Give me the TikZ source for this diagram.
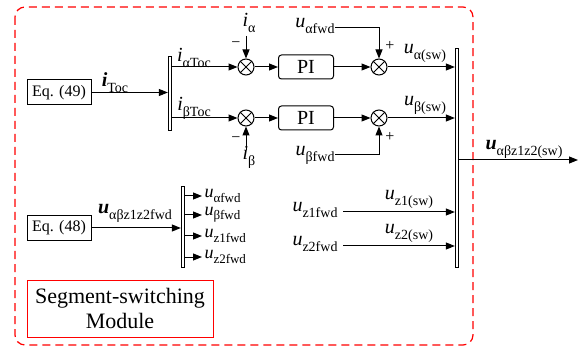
\documentclass[tikz,border=0pt]{standalone}
\usepackage{fontspec}
\setmainfont{Liberation Serif}
\usetikzlibrary{arrows.meta}
\newcommand{\sbs}[1]{\raisebox{-0.3em}{\fontsize{14}{14}\selectfont #1}}
\newcommand{\sig}[2]{\textit{#1}\sbs{#2}}
\newcommand{\bsig}[2]{\textbf{\textit{#1}}\sbs{#2}}
\newcommand{\ssig}[2]{{\fontsize{18}{18}\selectfont\textit{#1}\raisebox{-0.25em}{\fontsize{13}{13}\selectfont #2}}}
\tikzset{
  eqbox/.style={draw, minimum width=64pt, minimum height=25pt, inner sep=0pt, font=\fontsize{16}{18}\selectfont},
  pibox/.style={draw, rounded corners=3pt, minimum width=55pt, minimum height=24pt, inner sep=0pt},
  sumnode/.style={draw, circle, minimum size=16pt, inner sep=0pt},
  bus/.style={draw, fill=white, line width=0.8pt, minimum width=3.5pt, inner sep=0pt},
  lbl/.style={inner sep=0pt},
  sgn/.style={inner sep=0pt, font=\fontsize{16}{16}\selectfont}
}
\begin{document}
\begin{tikzpicture}[x=1pt, y=-1pt, line width=1pt, >={Triangle[length=9pt,width=7pt]},
  font=\fontsize{20}{22}\selectfont]
  \useasboundingbox (0,0) rectangle (583,347);
  \draw[red, line width=1.2pt, dash pattern=on 8pt off 5pt, rounded corners=10pt] (15,7) rectangle (473,345);

  % current loops
  \node[eqbox] (eq49) at (59,92.5) {Eq. (49)};
  \node[bus, minimum height=74pt] (bus1) at (170,93) {};
  \draw[->] (eq49.east) -- (eq49 -| bus1.west);
  \node[lbl] (itoc) at (115,83) {\bsig{i}{Toc}};

  \node[sumnode] (s1) at (246,67) {};
  \node[sumnode] (s3) at (246,118) {};
  \node[sumnode] (s2) at (379,67) {};
  \node[sumnode] (s4) at (379,118) {};
  \foreach \s in {s1,s2,s3,s4}{
    \draw[line width=0.8pt] (\s.north west) -- (\s.south east) (\s.north east) -- (\s.south west);
  }
  \node[pibox] (pi1) at (306,67) {PI};
  \node[pibox] (pi2) at (306,118) {PI};

  \draw[->] (bus1.east |- s1) -- (s1.west);
  \draw[->] (bus1.east |- s3) -- (s3.west);
  \node[lbl] (iatoc) at (194,58) {\sig{i}{αToc}};
  \node[lbl] (ibtoc) at (194,108) {\sig{i}{βToc}};
  \draw[->] (s1.east) -- (pi1.west);
  \draw[->] (s3.east) -- (pi2.west);
  \draw[->] (pi1.east) -- (s2.west);
  \draw[->] (pi2.east) -- (s4.west);

  \node[lbl] (ia) at (249,23) {\sig{i}{α}};
  \node[lbl] (ib) at (249,157) {\sig{i}{β}};
  \draw[->] (s1 |- 0,36) -- (s1.north);
  \draw[->] (s3 |- 0,150) -- (s3.south);
  \node[sgn] (m1) at (236,45) {−};
  \node[sgn] (m2) at (236,140) {−};

  \node[lbl, anchor=east] (uaf) at (335,26) {\sig{u}{αfwd}};
  \node[lbl, anchor=east] (ubf) at (335,155) {\sig{u}{βfwd}};
  \draw[->] (uaf.east |- 0,28) -| (s2.north);
  \draw[->] (ubf.east |- 0,155) -| (s4.south);
  \node[sgn] (p1) at (390,46) {+};
  \node[sgn] (p2) at (390,137) {+};

  % output bus
  \node[bus, minimum height=219pt] (bus2) at (457,157.5) {};
  \draw[->] (s2.east) -- (s2 -| bus2.west);
  \draw[->] (s4.east) -- (s4 -| bus2.west);
  \node[lbl] (uasw) at (425,53) {\sig{u}{α(sw)}};
  \node[lbl] (ubsw) at (425,105) {\sig{u}{β(sw)}};
  \coordinate (out) at (578,160);
  \draw[->] (out -| bus2.east) -- (out);
  \node[lbl] (uout) at (524,149) {\bsig{u}{αβz1z2(sw)}};

  % z loops
  \node[lbl, anchor=east] (uz1f) at (338,210) {\sig{u}{z1fwd}};
  \node[lbl, anchor=east] (uz2f) at (338,244) {\sig{u}{z2fwd}};
  \draw[->] (343,212) coordinate (z1) -- (z1 -| bus2.west);
  \draw[->] (343,246) coordinate (z2) -- (z2 -| bus2.west);
  \node[lbl] (uz1sw) at (409,199) {\sig{u}{z1(sw)}};
  \node[lbl] (uz2sw) at (409,233) {\sig{u}{z2(sw)}};

  % feedforward
  \node[eqbox] (eq48) at (59,228) {Eq. (48)};
  \node[bus, minimum height=81pt] (bus3) at (183,226.5) {};
  \draw[->] (eq48.east) -- (eq48 -| bus3.west);
  \node[lbl] (uff) at (135,213) {\bsig{u}{αβz1z2fwd}};
  \foreach \n/\s/\y in {af/αfwd/196, bf/βfwd/215, zf/z1fwd/236, zt/z2fwd/257}{
    \node[lbl, anchor=west] (f\n) at (204,\y) {\ssig{u}{\s}};
    \draw[->] (bus3.east |- 0,\y) -- (202,\y);
  }

  \node[draw=red, line width=1pt, minimum width=186pt, minimum height=57pt, align=center,
    font=\fontsize{22}{25}\selectfont] (mod) at (120,308.5) {Segment-switching\\Module};
\end{tikzpicture}
\end{document}
